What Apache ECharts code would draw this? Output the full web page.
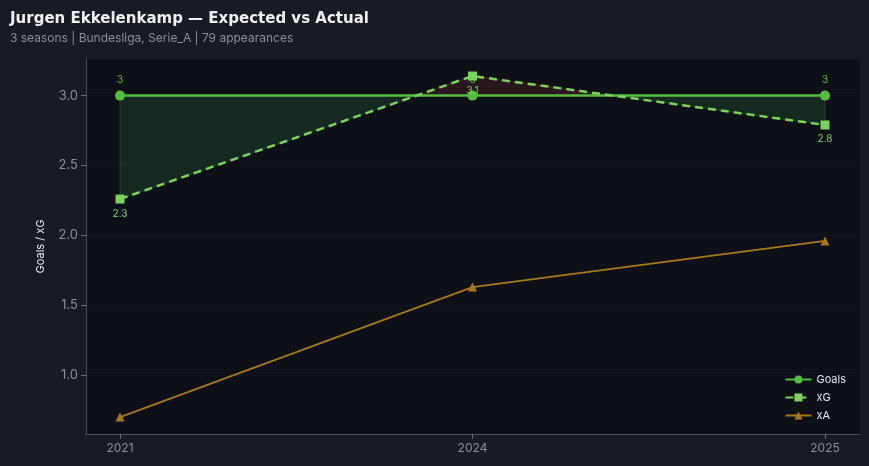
<!DOCTYPE html>
<html><head><meta charset="utf-8">
<script src="https://cdn.jsdelivr.net/npm/echarts@6/dist/echarts.min.js"></script>
<style>html,body{margin:0;padding:0;background:#181b22;}#c{width:869px;height:466px;}</style>
</head><body><div id="c"></div>
<script>
const seasons = ['2021', '2024', '2025'];
const goals = [3, 3, 3];
const xG = [2.26, 3.14, 2.79];
const xA = [0.70, 1.63, 1.96];
const goalLabels = ['3', '3', '3'];
const xGLabels = ['2.3', '3.1', '2.8'];
const yTicks = [1.0, 1.5, 2.0, 2.5, 3.0];

const idx = seasons.map((_, i) => i);
function pts(arr){ return arr.map((v,i)=>[i,v]); }

// build fill polygons between goals and xG, split at crossings
function buildFills(){
  const pos = [], neg = [];
  let cur = null;
  for (let i = 0; i < idx.length; i++){
    const d = goals[i] - xG[i];
    const s = d >= 0 ? 1 : -1;
    if (cur === null){ cur = {s, top:[[i,goals[i]]], bot:[[i,xG[i]]]}; }
    else if (s !== cur.s){
      const dp = goals[i-1]-xG[i-1];
      const t = dp/(dp-d);
      const x = i-1+t, y = goals[i-1]+t*(goals[i]-goals[i-1]);
      cur.top.push([x,y]); cur.bot.push([x,y]);
      (cur.s>0?pos:neg).push(cur);
      cur = {s, top:[[x,y],[i,goals[i]]], bot:[[x,y],[i,xG[i]]]};
    } else { cur.top.push([i,goals[i]]); cur.bot.push([i,xG[i]]); }
  }
  (cur.s>0?pos:neg).push(cur);
  return {pos, neg};
}
const fills = buildFills();
const polyData = fills.pos.map(p=>({s:1,p})).concat(fills.neg.map(p=>({s:-1,p})));

const chart = echarts.init(document.getElementById('c'));
const xmin = -0.0965, xmax = 2.0993;
chart.setOption({
  backgroundColor: '#181b22',
  animation: false,
  title: {
    text: 'Jurgen Ekkelenkamp — Expected vs Actual',
    subtext: '3 seasons | Bundesliga, Serie_A | 79 appearances',
    left: 5, top: 7, itemGap: 5,
    textStyle: {color: '#eef0f4', fontSize: 15, fontWeight: 'bold', fontFamily: 'DejaVu Sans'},
    subtextStyle: {color: '#8a8f99', fontSize: 12, fontFamily: 'Inter'}
  },
  grid: {left: 86, right: 9, top: 59, bottom: 32, show: true, backgroundColor: '#0d1017', borderWidth: 0},
  legend: {
    orient: 'vertical', right: 18, bottom: 40, itemGap: 7, itemWidth: 26, itemHeight: 10,
    textStyle: {color: '#e0e2e6', fontSize: 11, fontFamily: 'Inter'},
    data: ['Goals','xG','xA']
  },
  xAxis: {
    type: 'value', min: xmin, max: xmax,
    axisLine: {show: true, onZero: false, lineStyle: {color: '#4a4f59'}},
    splitLine: {show: false},
    axisTick: {show: true, customValues: idx, length: 5, lineStyle: {color: '#6a6f79'}},
    axisLabel: {customValues: idx, color: '#8a8f99', fontSize: 12, fontFamily: 'Inter', margin: 8,
      formatter: v => seasons[Math.round(v)]}
  },
  yAxis: {
    type: 'value', min: 0.579, max: 3.262,
    name: 'Goals / xG', nameLocation: 'middle', nameGap: 40, nameRotate: 90,
    nameTextStyle: {color: '#e6e8ec', fontSize: 11, fontFamily: 'Inter'},
    axisLine: {show: true, onZero: false, lineStyle: {color: '#4a4f59'}},
    axisTick: {show: true, customValues: yTicks, length: 5, lineStyle: {color: '#6a6f79'}},
    axisLabel: {customValues: yTicks, color: '#8a8f99', fontSize: 13, fontFamily: 'Inter', margin: 8,
      formatter: v => v.toFixed(1)},
    splitLine: {show: true, customValues: yTicks, lineStyle: {color: 'rgba(255,255,255,0.025)'}}
  },
  series: [
    {
      type: 'custom', name: 'fill', silent: true, z: 1,
      data: polyData.map((_,i)=>i),
      renderItem: (params, api) => {
        const d = polyData[params.dataIndex];
        const poly = d.p.top.concat(d.p.bot.slice().reverse()).map(q => api.coord(q));
        return {type: 'polygon', shape: {points: poly},
          style: {fill: d.s > 0 ? 'rgba(76,175,80,0.16)' : 'rgba(200,60,60,0.16)',
                  stroke: d.s > 0 ? 'rgba(76,175,80,0.25)' : 'rgba(200,60,60,0.25)', lineWidth: 1}};
      }
    },
    {
      name: 'Goals', type: 'line', data: pts(goals), z: 3,
      symbol: 'circle', symbolSize: 10,
      lineStyle: {color: '#55bd3f', width: 2.5},
      itemStyle: {color: '#55bd3f'},
      label: {show: true, position: 'top', distance: 6, color: '#55bd3f', fontSize: 10, fontFamily: 'Inter',
        formatter: p => goalLabels[p.dataIndex]}
    },
    {
      name: 'xG', type: 'line', data: pts(xG), z: 4,
      symbol: 'rect', symbolSize: 9,
      lineStyle: {color: '#7bd35e', width: 2.5, type: [8, 5]},
      itemStyle: {color: '#7bd35e'},
      label: {show: true, position: 'bottom', distance: 5, color: '#7bd35e', fontSize: 10, fontFamily: 'Inter',
        formatter: p => xGLabels[p.dataIndex]}
    },
    {
      name: 'xA', type: 'line', data: pts(xA), z: 2,
      symbol: 'triangle', symbolSize: 9,
      lineStyle: {color: '#a8791c', width: 1.8},
      itemStyle: {color: '#a8791c'}
    }
  ]
});
</script></body></html>
